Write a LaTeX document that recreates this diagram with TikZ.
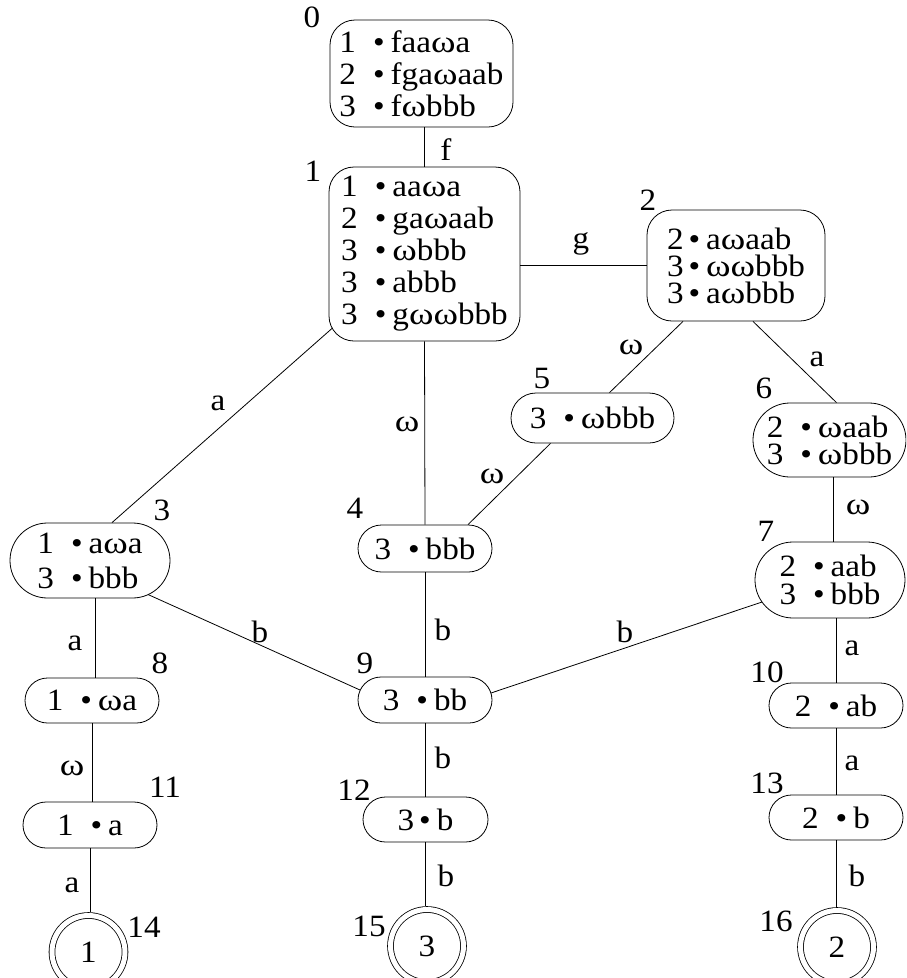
\documentclass[tikz,border=0pt]{standalone}
\usepackage{fontspec}
\setmainfont{Liberation Serif}[FakeStretch=1.07]
% a rounder, wider omega for the symbol of the alphabet
\newfontfamily\omfont{Liberation Serif}[FakeStretch=1.2]
\newcommand\om{{\omfont ω}}
% one production line of an item set: rule number, bullet, remaining word
\newcommand\prodline[2]{#1\hspace{17pt}•\hspace{6pt}#2}
\newcommand\prodlinen[2]{#1\hspace{5pt}•\hspace{6pt}#2}
\begin{document}
\begin{tikzpicture}[x=1pt,y=-1pt,line width=0.8pt,
  every node/.style={font=\fontsize{31}{32}\selectfont, inner sep=0pt},
  state/.style={draw, align=left, rounded corners=25pt},
  pill/.style={draw, align=left, rounded corners=#1},
  final/.style={draw, circle, double, double distance=5pt, minimum size=73pt, outer sep=3.3pt},
  tight/.style={font=\fontsize{31}{27}\selectfont},
]
\useasboundingbox (0,0) rectangle (906,978);
\clip (0,0) rectangle (906,978);

% item-set nodes
\node[state, minimum width=183pt, minimum height=107pt] (n0) at (421.5,73.5)
  {\prodline1{faa\om a}\\\prodline2{fga\om aab}\\\prodline3{f\om bbb}};
\node[state, minimum width=191pt, minimum height=174pt] (n1) at (424.5,254)
  {\prodline1{aa\om a}\\\prodline2{ga\om aab}\\\prodline3{\om bbb}\\\prodline3{abbb}\\\prodline3{g\om\om bbb}};
\node[state, tight, minimum width=178pt, minimum height=111pt] (n2) at (736,265.5)
  {\prodlinen2{a\om aab}\\\prodlinen3{\om\om bbb}\\\prodlinen3{a\om bbb}};
\node[pill=25pt, minimum width=163pt, minimum height=50pt] (n5) at (592.5,418)
  {\prodline3{\om bbb}};
\node[pill=37pt, tight, minimum width=153pt, minimum height=74pt] (n6) at (829.5,440)
  {\prodline2{\om aab}\\\prodline3{\om bbb}};
\node[pill=38pt, font=\fontsize{31}{28}\selectfont, minimum width=150pt, minimum height=76pt] (n7) at (830,580)
  {\prodline2{aab}\\\prodline3{bbb}};
\node[pill=37.5pt, font=\fontsize{31}{35}\selectfont, minimum width=160pt, minimum height=75pt] (n3) at (90,560.5)
  {\prodline1{a\om a}\\\prodline3{bbb}};
\node[pill=23.5pt, minimum width=134pt, minimum height=47pt] (n4) at (425,548.5)
  {\prodline3{bbb}};
\node[pill=22.5pt, minimum width=134pt, minimum height=45pt] (n8) at (92,700.5)
  {\prodline1{\om a}};
\node[pill=23pt, minimum width=134pt, minimum height=46pt] (n9) at (425,700)
  {\prodline3{bb}};
\node[pill=22.5pt, minimum width=134pt, minimum height=45pt] (n10) at (836,705.5)
  {\prodline2{ab}};
\node[pill=23pt, minimum width=134pt, minimum height=46pt] (n11) at (90,825)
  {\prodline1{a}};
\node[pill=22.5pt, minimum width=125pt, minimum height=45pt] (n12) at (425.5,819.5)
  {\prodlinen3{b}};
\node[pill=22.5pt, minimum width=134pt, minimum height=45pt] (n13) at (836,817.5)
  {\prodline2{b}};
\node[final] (n14) at (88.5,952) {1};
\node[final] (n15) at (427,946) {3};
\node[final] (n16) at (837,947) {2};

% state numbers
\node (t0) at (312,17) {0};
\node (t1) at (313,171) {1};
\node (t2) at (648,200) {2};
\node (t3) at (162,510) {3};
\node (t4) at (355,508) {4};
\node (t5) at (542,378) {5};
\node (t6) at (764,388) {6};
\node (t7) at (766,531) {7};
\node (t8) at (160,663) {8};
\node (t9) at (365,663) {9};
\node (t10) at (767,672) {10};
\node (t11) at (165,787) {11};
\node (t12) at (354,790) {12};
\node (t13) at (767,783) {13};
\node (t14) at (144,927) {14};
\node (t15) at (369,926) {15};
\node (t16) at (776,921) {16};

% transitions
\draw (n1.north) -- (n1.north |- n0.south);
\draw (n2.west) -- (n2.west -| n1.east);
\draw ([shift={(-92,74)}]n1.center) -- ([xshift=22pt]n3.north);
\draw (n1.south) -- (n4.north);
\draw ([xshift=-53pt]n2.south) -- ([xshift=17pt]n5.north);
\draw ([xshift=17pt]n2.south) -- ([xshift=7pt]n6.north);
\draw ([xshift=-42pt]n5.south) -- ([xshift=43pt]n4.north);
\draw ([xshift=4pt]n6.south) -- ([xshift=4pt]n6.south |- n7.north);
\draw ([xshift=5pt]n3.south) -- ([xshift=5pt]n3.south |- n8.north);
\draw ([shift={(58,34)}]n3.center) -- ([shift={(-65,-10)}]n9.center);
\draw (n4.south) -- (n9.north);
\draw ([shift={(-68,22)}]n7.center) -- ([shift={(66,-7)}]n9.center);
\draw (n10.north) -- (n10.north |- n7.south);
\draw (n8.south) -- (n8.south |- n11.north);
\draw (n9.south) -- (n9.south |- n12.north);
\draw (n10.south) -- (n13.north);
\draw (n11.south) -- (n11.south |- n14.north);
\draw (n12.south) -- (n12.south |- n15.north);
\draw (n13.south) -- (n13.south |- n16.north);

% transition symbols
\node (e01) at (446,150) {f};
\node (e12) at (581,244) {g};
\node (e13) at (218,403) {a};
\node (e14) at (407,424) {\om};
\node (e25) at (631,347) {\om};
\node (e26) at (817,359) {a};
\node (e54) at (492,476) {\om};
\node (e67) at (858,507) {\om};
\node (e38) at (75,643) {a};
\node (e39) at (260,632) {b};
\node (e49) at (443,630) {b};
\node (e79) at (625,632) {b};
\node (e710) at (852,648) {a};
\node (e811) at (72,768) {\om};
\node (e912) at (443,758) {b};
\node (e1013) at (852,763) {a};
\node (e1114) at (72,885) {a};
\node (e1215) at (446,876) {b};
\node (e1316) at (857,876) {b};
\end{tikzpicture}
\end{document}
